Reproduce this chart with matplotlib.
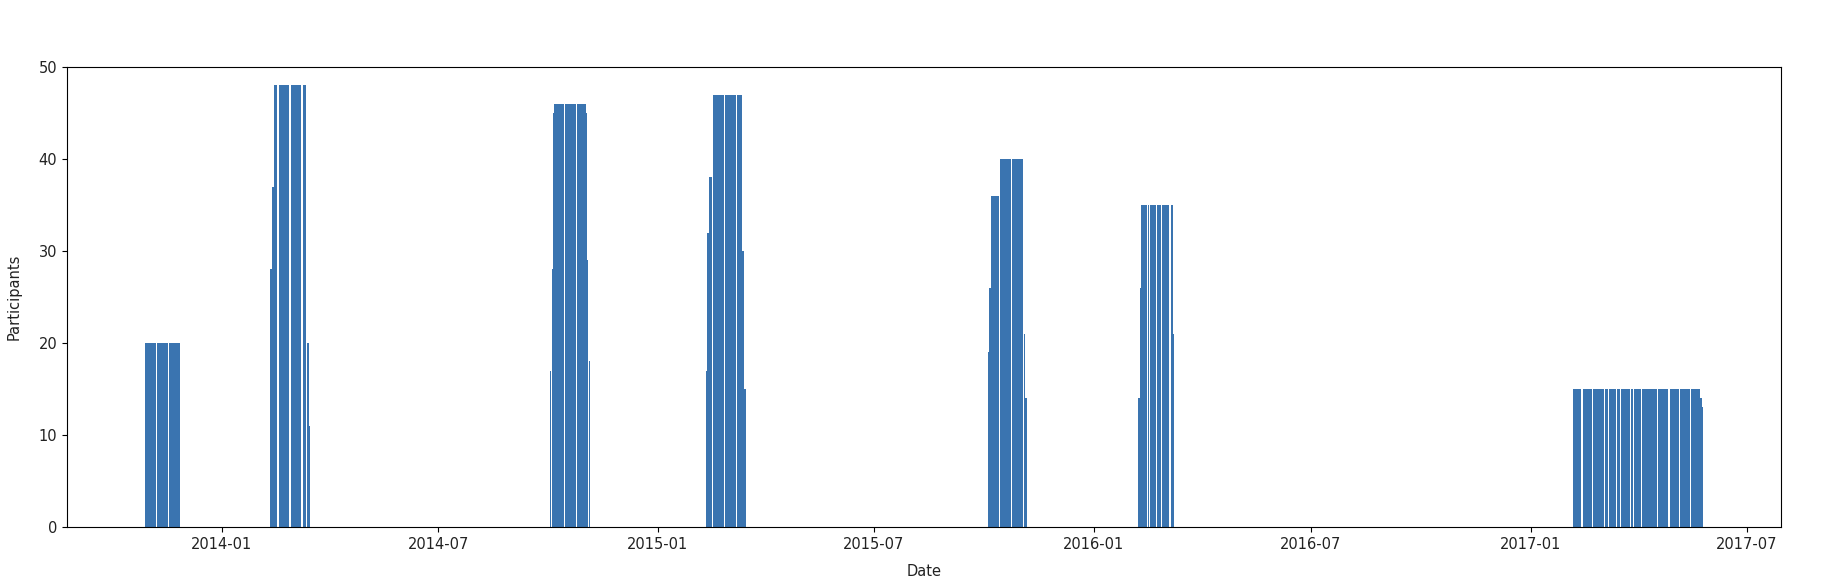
import datetime as dt

import matplotlib

matplotlib.use("Agg")
import matplotlib.dates as mdates
import matplotlib.pyplot as plt

# one list per course session: first day, then the daily participant count
# (None = day without a record)
session_starts = [
    "2013-10-29",
    "2014-02-11",
    "2014-10-03",
    "2015-02-11",
    "2015-10-05",
    "2016-02-08",
    "2017-02-06",
]

session_1 = [
    20, 20, 20, 20, 20, 20, 20, 20, 20, None,
    20, 20, 20, 20, 20, 20, 20, 20, 20, None,
    20, 20, 20, 20, 20, 20, 20, 20, 20,
]
session_2 = [
    28, 37, 37, 48, 48, 48, None,
    48, 48, 48, 48, 48, 48, 48, 48, 48, None,
    48, 48, 48, 48, 48, 48, 48, 48, 48, None,
    48, 48, 48, None, 20, 11,
]
session_3 = [
    17, None, 28, 45, 46, 46, 46, 46, 46, 46, 46, 46, None,
    46, 46, 46, 46, 46, 46, 46, 46, 46, None,
    46, 46, 46, 46, 46, 46, 46, 45, 29, None, 18,
]
session_4 = [
    17, 32, 38, 38, 38, None,
    47, 47, 47, 47, 47, 47, 47, 47, 47, None,
    47, 47, 47, 47, 47, 47, 47, 47, 47, None,
    47, 47, 47, 47, 30, 30, 15,
]
session_5 = [
    19, 26, 26, 36, 36, 36, 36, 36, 36, None,
    40, 40, 40, 40, 40, 40, 40, 40, 40, None,
    40, 40, 40, 40, 40, 40, 40, 40, 40, None,
    21, 14, 14,
]
session_6 = [
    14, 26, 35, 35, 35, 35, 35, None, 35, None,
    35, 35, 35, 35, 35, None, 35, 35, 35, None,
    35, 35, 35, 35, 35, 35, None, 35, 35, 21,
]
session_7 = [
    15, 15, 15, 15, 15, 15, 15, None,
    15, 15, 15, 15, 15, 15, 15, 15, None,
    15, 15, 15, 15, 15, 15, 15, 15, 15, None,
    15, 15, None,
    15, 15, 15, 15, 15, 15, None,
    15, 15, None,
    15, 15, 15, 15, 15, 15, 15, 15, None,
    15, None,
    15, 15, 15, 15, 15, 15, None,
    15, 15, 15, 15, 15, 15, 15, 15, 15, 15, 15, 15, None,
    15, 15, 15, 15, 15, 15, 15, 15, 15, None,
    15, 15, 15, 15, 15, 15, 15, 15, None,
    15, 15, 15, 15, 15, 15, 15, 15, None,
    15, 15, 15, 15, 15, 15, 15, 14, 14, 13,
]
sessions = [session_1, session_2, session_3, session_4, session_5, session_6, session_7]


def daily_records(starts, counts):
    dates, values = [], []
    for start, daily in zip(starts, counts):
        first = dt.datetime.strptime(start, "%Y-%m-%d")
        for i, v in enumerate(daily):
            if v is None:
                continue
            dates.append(first + dt.timedelta(days=i))
            values.append(v)
    return dates, values


dates, participants = daily_records(session_starts, sessions)

fig = plt.figure(figsize=(18.22, 5.80), dpi=100)
ax = fig.add_axes([0.0368, 0.0914, 0.9407, 0.7931])
ax.bar(dates, participants, width=1.0, color="#3a74b0")

ax.set_ylim(0, 50)
ax.xaxis.set_major_locator(mdates.MonthLocator(bymonth=[1, 7]))
ax.xaxis.set_major_formatter(mdates.DateFormatter("%Y-%m"))
ax.tick_params(labelsize=10.5, labelcolor="#222222")
ax.set_xlabel("Date", fontsize=10.5, color="#222222", labelpad=9)
ax.set_ylabel("Participants", fontsize=10.5, color="#222222", labelpad=12)

fig.savefig("out.png", dpi=100)
